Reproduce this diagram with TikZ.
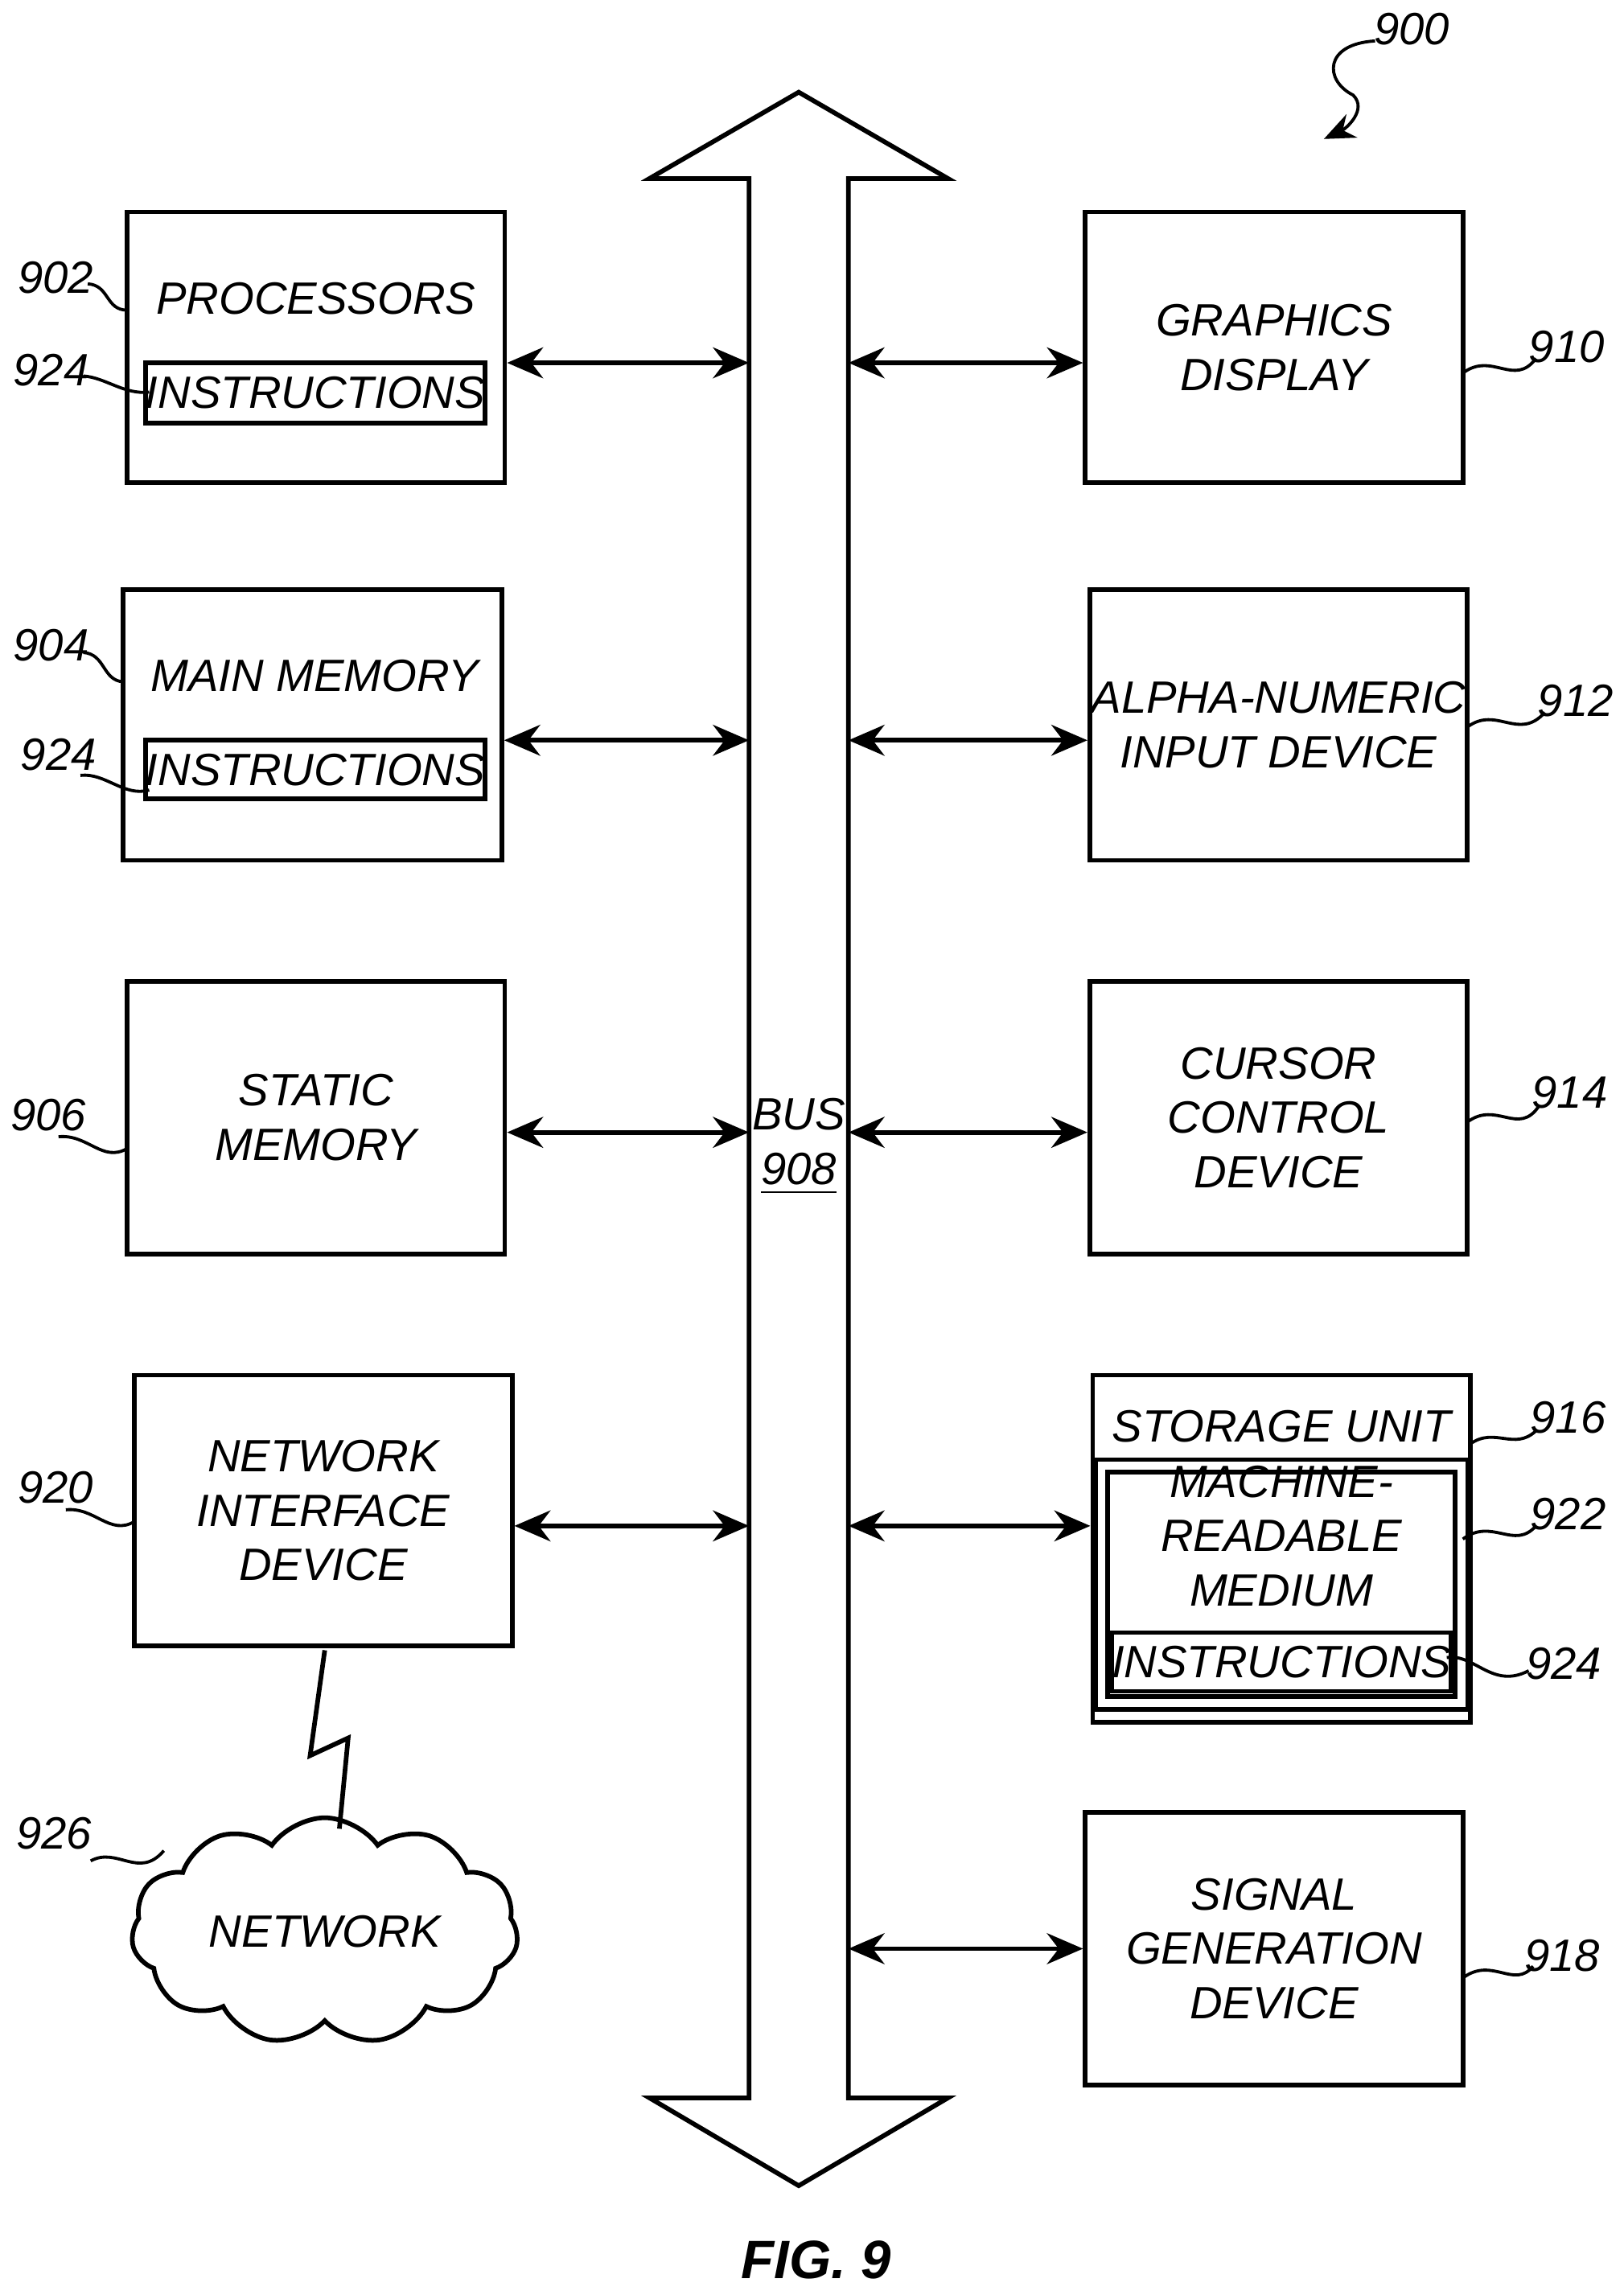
\documentclass[tikz,border=0pt]{standalone}
\usepackage{fontspec}
\setmainfont{Liberation Sans}
\usetikzlibrary{shapes.symbols,arrows.meta}
\begin{document}
\begin{tikzpicture}[x=0.01cm,y=-0.01cm,
 box/.style={draw,line width=0.9pt,align=center,inner sep=0pt,font=\fontsize{8.8}{10.6}\selectfont\itshape},
 txt/.style={font=\fontsize{8.8}{10.6}\selectfont\itshape,align=center},
 lab/.style={font=\fontsize{8.8}{10.6}\selectfont\itshape},
 arr/.style={{Stealth[length=7pt,width=6pt]}-{Stealth[length=7pt,width=6pt]},line width=0.9pt},
 sq/.style={line width=0.6pt}]
\useasboundingbox (0,0) rectangle (1110,1566);
% boxes
\node[box,minimum width=2.58cm,minimum height=1.85cm] (p) at (216,237.5) {};
\node[txt] (pt) at (216,204) {PROCESSORS};
\node[box,minimum width=2.27cm,minimum height=0.41cm] (pi) at (215.5,268.5) {INSTRUCTIONS};
\node[box,minimum width=2.59cm,minimum height=1.85cm] (m) at (213.5,495.5) {};
\node[txt] (mt) at (215,462) {MAIN MEMORY};
\node[box,minimum width=2.27cm,minimum height=0.40cm] (mi) at (215.5,526) {INSTRUCTIONS};
\node[box,minimum width=2.58cm,minimum height=1.86cm] (s) at (216,764) {STATIC\\MEMORY};
\node[box,minimum width=2.58cm,minimum height=1.85cm] (n) at (221,1032.5) {NETWORK\\INTERFACE\\DEVICE};
\node[box,minimum width=2.58cm,minimum height=1.85cm] (g) at (871,237.5) {GRAPHICS\\DISPLAY};
\node[box,minimum width=2.58cm,minimum height=1.85cm] (a) at (874,495.5) {ALPHA-NUMERIC\\INPUT DEVICE};
\node[box,minimum width=2.58cm,minimum height=1.86cm] (c) at (874,764) {CURSOR\\CONTROL\\DEVICE};
\node[box,minimum width=2.58cm,minimum height=2.37cm] (su) at (876,1058.5) {};
\node[txt] (sut) at (876,975) {STORAGE UNIT};
\node[box,minimum width=2.46cm,minimum height=1.62cm,double,double distance=1.5pt] (mr) at (876,1083) {};
\node[txt] (mrt) at (876,1050) {MACHINE-\\READABLE\\MEDIUM};
\node[box,minimum width=2.26cm,minimum height=0.40cm] (si) at (876,1136) {INSTRUCTIONS};
\node[box,minimum width=2.58cm,minimum height=1.86cm] (sg) at (871,1332) {SIGNAL\\GENERATION\\DEVICE};
% bus
\draw[line width=0.9pt,fill=white] (512,122) -- (444,122) -- (546,63) -- (648,122) -- (580,122) -- (580,1434) -- (648,1434) -- (546,1494) -- (444,1434) -- (512,1434) -- cycle;
\node[txt] (bus) at (546,784) {BUS\\\underline{908}};
\coordinate (bl) at (512,0); \coordinate (br) at (580,0);
% arrows
\foreach \y/\L/\R in {248/p/g,506/m/a,774/s/c,1043/n/su}{
 \draw[arr] (\L.east |- 0,\y) -- (bl |- 0,\y);
 \draw[arr] (br |- 0,\y) -- (\R.west |- 0,\y);}
\draw[arr] (br |- 0,1332) -- (sg.west |- 0,1332);
% cloud
\node[cloud,draw,line width=0.9pt,cloud puffs=11,cloud puff arc=110,aspect=2.1,minimum width=2.62cm,minimum height=1.35cm,font=\fontsize{8.8}{10.6}\selectfont\itshape] (net) at (222,1320) {NETWORK};
\coordinate (z1) at (222,1128); \coordinate (z2) at (232,1250);
\draw[line width=0.9pt] (z1) -- (212,1200) -- (238,1188) -- (z2);
% reference labels
\node[lab] (l902) at (38,190) {902};
\draw[sq] (60,194) .. controls (75,195) and (72,212) .. (87,212);
\node[lab] (l924a) at (35,253) {924};
\draw[sq] (57,257) .. controls (72,258) and (85,270) .. (102,268);
\node[lab] (l904) at (35,441) {904};
\draw[sq] (57,446) .. controls (72,447) and (70,465) .. (84,466);
\node[lab] (l924b) at (40,516) {924};
\draw[sq] (55,530) .. controls (72,528) and (85,545) .. (102,540);
\node[lab] (l906) at (33,762) {906};
\draw[sq] (40,777) .. controls (60,775) and (70,795) .. (87,785);
\node[lab] (l920) at (38,1017) {920};
\draw[sq] (45,1032) .. controls (65,1030) and (75,1050) .. (92,1040);
\node[lab] (l926) at (37,1253) {926};
\draw[sq] (62,1272) .. controls (80,1262) and (95,1285) .. (112,1265);
\node[lab] (l910) at (1071,237) {910};
\draw[sq] (1000,255) .. controls (1020,240) and (1035,265) .. (1050,245);
\node[lab] (l912) at (1077,479) {912};
\draw[sq] (1003,497) .. controls (1023,482) and (1038,507) .. (1056,487);
\node[lab] (l914) at (1073,747) {914};
\draw[sq] (1003,767) .. controls (1023,752) and (1038,777) .. (1052,756);
\node[lab] (l916) at (1072,969) {916};
\draw[sq] (1005,987) .. controls (1022,975) and (1035,992) .. (1050,978);
\node[lab] (l922) at (1072,1035) {922};
\draw[sq] (1000,1052) .. controls (1020,1037) and (1035,1060) .. (1050,1043);
\node[lab] (l924c) at (1069,1137) {924};
\draw[sq] (989,1133) .. controls (1008,1130) and (1020,1155) .. (1045,1142);
\node[lab] (l918) at (1068,1337) {918};
\draw[sq] (1000,1352) .. controls (1020,1337) and (1035,1360) .. (1048,1344);
\node[lab] (l900) at (965,20) {900};
\draw[sq,-{Stealth[length=6pt,width=5pt]}] (940,28) .. controls (905,30) and (905,55) .. (925,65) .. controls (935,75) and (920,88) .. (905,95);
\node[font=\fontsize{10.5}{12}\selectfont\bfseries\itshape] (fig) at (558,1545) {FIG. 9};
\end{tikzpicture}
\end{document}
